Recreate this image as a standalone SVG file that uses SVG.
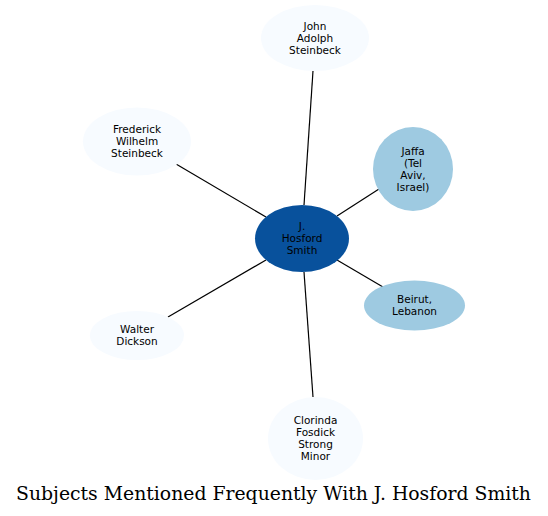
<svg xmlns="http://www.w3.org/2000/svg" width="548" height="516" viewBox="0 0 548 516">
<style>
.n text{font-family:"DejaVu Sans",sans-serif;font-size:10.5px;fill:#000;text-anchor:middle}
.e line{stroke:#000;stroke-width:1.2}
.light{fill:#f7fbff}
.mid{fill:#9ecae1}
.dark{fill:#08519c}
.title{font-family:"DejaVu Serif",serif;font-size:18px;fill:#000;text-anchor:middle}
</style>
<rect width="548" height="516" fill="#fff"/>
<g id="edges" class="e">
<line x1="304" y1="205" x2="313" y2="71"/>
<line x1="266" y1="217" x2="176" y2="164"/>
<line x1="337" y1="216" x2="379" y2="189"/>
<line x1="337" y1="260" x2="383" y2="287"/>
<line x1="266" y1="260" x2="168" y2="317"/>
<line x1="304" y1="272" x2="313" y2="397"/>
</g>
<g id="n_center" class="n">
<ellipse class="dark" cx="302" cy="238.5" rx="47" ry="33.5"/>
<text x="302" y="230">J.</text>
<text x="302" y="242">Hosford</text>
<text x="302" y="254">Smith</text>
</g>
<g id="n_john" class="n">
<ellipse class="light" cx="315" cy="38" rx="54" ry="33"/>
<text x="315" y="29.5">John</text>
<text x="315" y="41.5">Adolph</text>
<text x="315" y="53.5">Steinbeck</text>
</g>
<g id="n_frederick" class="n">
<ellipse class="light" cx="137" cy="141.5" rx="54" ry="34"/>
<text x="137" y="133">Frederick</text>
<text x="137" y="145">Wilhelm</text>
<text x="137" y="157">Steinbeck</text>
</g>
<g id="n_jaffa" class="n">
<ellipse class="mid" cx="413" cy="169" rx="40" ry="42"/>
<text x="413" y="154.5">Jaffa</text>
<text x="413" y="166.5">(Tel</text>
<text x="413" y="178.5">Aviv,</text>
<text x="413" y="190.5">Israel)</text>
</g>
<g id="n_beirut" class="n">
<ellipse class="mid" cx="414.5" cy="305.5" rx="50.5" ry="25"/>
<text x="414.5" y="303">Beirut,</text>
<text x="414.5" y="315">Lebanon</text>
</g>
<g id="n_walter" class="n">
<ellipse class="light" cx="137" cy="335.5" rx="47" ry="24.5"/>
<text x="137" y="333">Walter</text>
<text x="137" y="345">Dickson</text>
</g>
<g id="n_clorinda" class="n">
<ellipse class="light" cx="315.5" cy="438.5" rx="47.5" ry="41.5"/>
<text x="315.5" y="424">Clorinda</text>
<text x="315.5" y="436">Fosdick</text>
<text x="315.5" y="448">Strong</text>
<text x="315.5" y="460">Minor</text>
</g>
<text class="title" x="273.5" y="500" textLength="515" lengthAdjust="spacingAndGlyphs">Subjects Mentioned Frequently With J. Hosford Smith</text>
</svg>
